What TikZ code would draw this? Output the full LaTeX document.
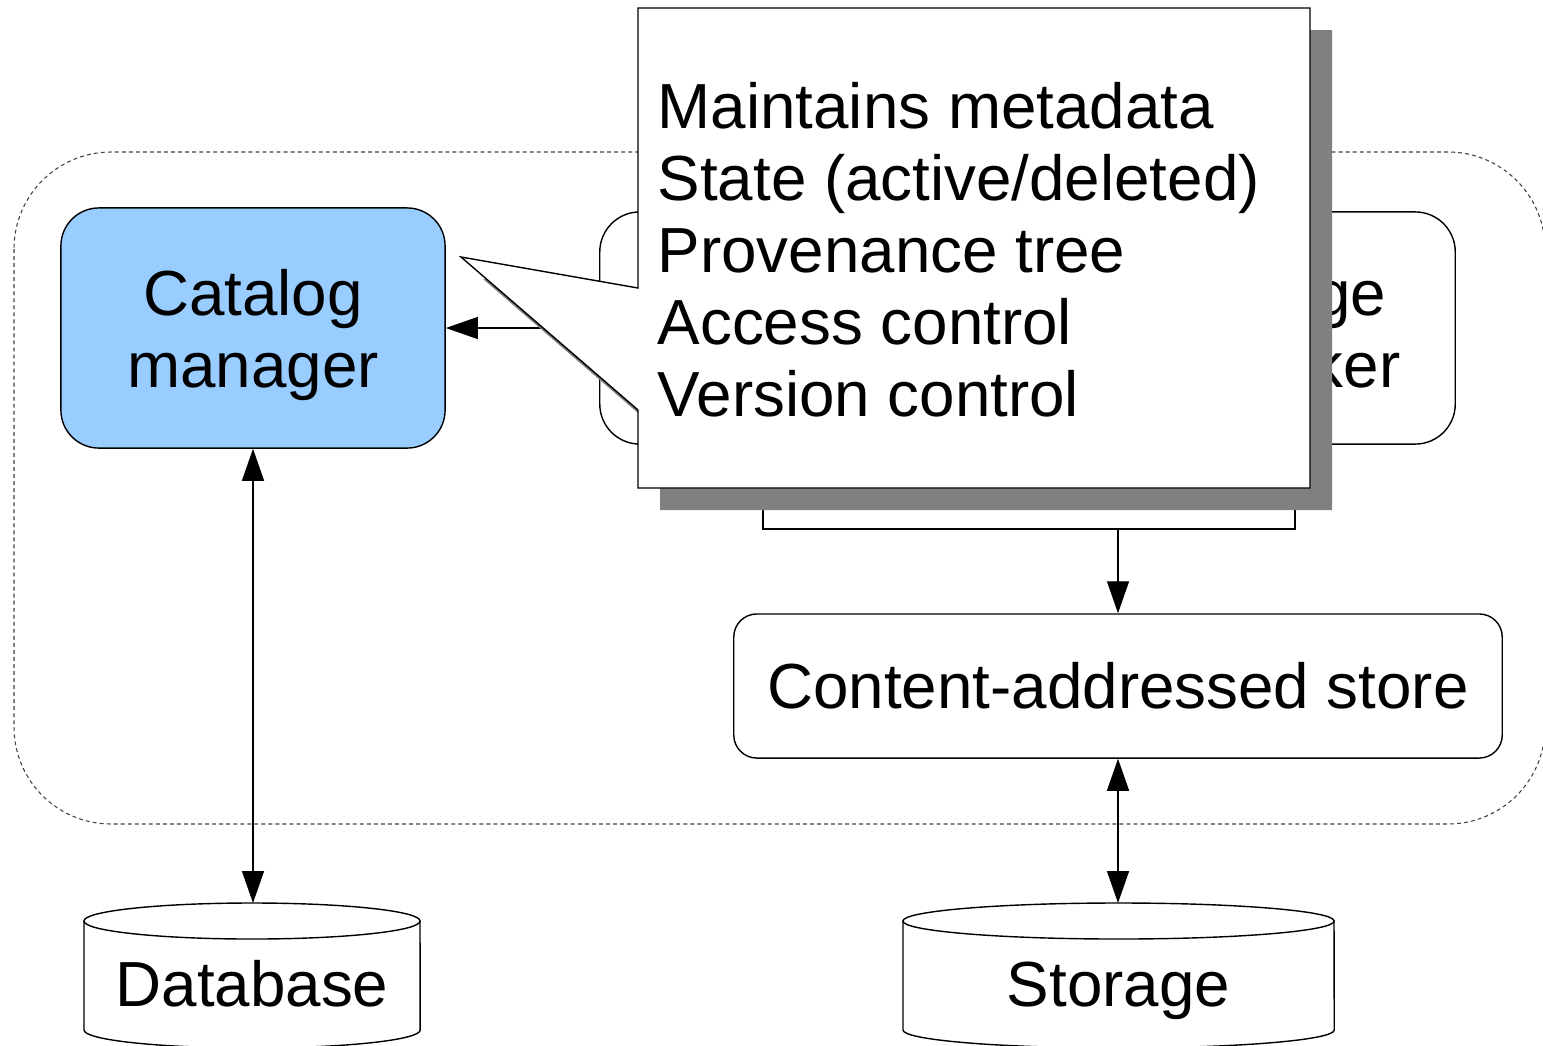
\documentclass[tikz,border=0pt]{standalone}
\usepackage{fontspec}
\setmainfont{Liberation Sans}
\usetikzlibrary{arrows.meta}
\definecolor{catblue}{HTML}{99CCFF}
\definecolor{shadowgray}{HTML}{808080}
\definecolor{dashgray}{HTML}{404040}
% centred two-line stack whose baseline is the first line
\newcommand\twolines[2]{\vtop{\halign{\hfil##\hfil\cr #1\cr #2\cr}}}
% left-aligned stack of lines separated by \cr
\newcommand\leftstack[1]{\vtop{\halign{##\hfil\cr #1\crcr}}}
% outline of the note: box plus pointer towards the catalog manager
\newcommand\noteoutline{(638,8) -- (1310,8) -- (1310,488) -- (638,488) -- (638,410) -- (461,257) -- (638,288) -- cycle}

\begin{document}
\begin{tikzpicture}[x=0.01cm,y=-0.01cm,
  txt/.style={font=\fontsize{18.12}{20.5}\selectfont, text=black},
  edge/.style={draw=black, line width=0.4pt},
  box/.style={txt, draw=black, line width=0.4pt, fill=white, inner sep=0pt},
  tip/.style={-{Triangle[length=0.32cm,width=0.22cm]}},
  twotips/.style={{Triangle[length=0.32cm,width=0.22cm]}-{Triangle[length=0.32cm,width=0.22cm]}},
  group/.style={draw=dashgray, line width=0.3pt, dash pattern=on 1.1pt off 0.9pt, rounded corners=0.97cm},
]
\useasboundingbox (0,0) rectangle (1543,1045);
\clip (0,0) rectangle (1543,1045);

% system boundary
\draw[group] (14,152) rectangle (1545,824);

% catalog manager
\node[box, fill=catblue, rounded corners=0.38cm, minimum width=3.84cm,
      minimum height=2.40cm, text height=0.6cm, text depth=0.86cm]
  (cat) at (253,328) {\twolines{Catalog}{manager}};

% storage component (mostly under the note)
\node[box, rounded corners=0.4cm, minimum width=8.55cm, minimum height=2.32cm]
  (hid) at (1027.5,328) {};
\node[txt, anchor=base east, inner sep=0pt] (hidA) at (1387,315) {ge};
\node[txt, anchor=base east, inner sep=0pt] (hidB) at (1401,387) {ker};

% content-addressed store
\node[box, rounded corners=0.23cm, minimum width=7.68cm, minimum height=1.44cm]
  (cas) at (1118,686) {Content-addressed store};

% box under the note
\node[box, minimum width=5.32cm, minimum height=0.80cm] (idx) at (1029,489) {};

\draw[edge, tip] (hid.west) -- (cat.east);
\draw[edge, tip] (idx.south -| cas.north) -- (cas.north);

% database cylinder
\draw[edge] (84,921) -- (84,1030)
  arc[start angle=180, end angle=360, x radius=1.68cm, y radius=0.18cm] -- (420,921);
\draw[edge] (252,921) ellipse[x radius=1.68cm, y radius=0.18cm];
\coordinate (dbtop) at (252,903);
\node[txt, anchor=base, inner sep=0pt] (db) at (252,1006) {Database};

% storage cylinder
\draw[edge] (903,921) -- (903,1030)
  arc[start angle=180, end angle=360, x radius=2.155cm, y radius=0.18cm] -- (1334,921);
\draw[edge] (1118.5,921) ellipse[x radius=2.155cm, y radius=0.18cm];
\coordinate (sttop) at (1118,903);
\node[txt, anchor=base, inner sep=0pt] (st) at (1118.5,1006) {Storage};

\draw[edge, twotips] (cat.south) -- (cat.south |- dbtop);
\draw[edge, twotips] (cas.south) -- (cas.south |- sttop);

% note with drop shadow
\fill[shadowgray, shift={(22,22)}] \noteoutline;
\filldraw[edge, fill=white] \noteoutline;
\node[txt, anchor=base west, inner sep=0pt] (notes) at (657,128)
  {\leftstack{Maintains metadata\cr State (active/deleted)\cr Provenance tree\cr Access control\cr Version control}};
\end{tikzpicture}
\end{document}
